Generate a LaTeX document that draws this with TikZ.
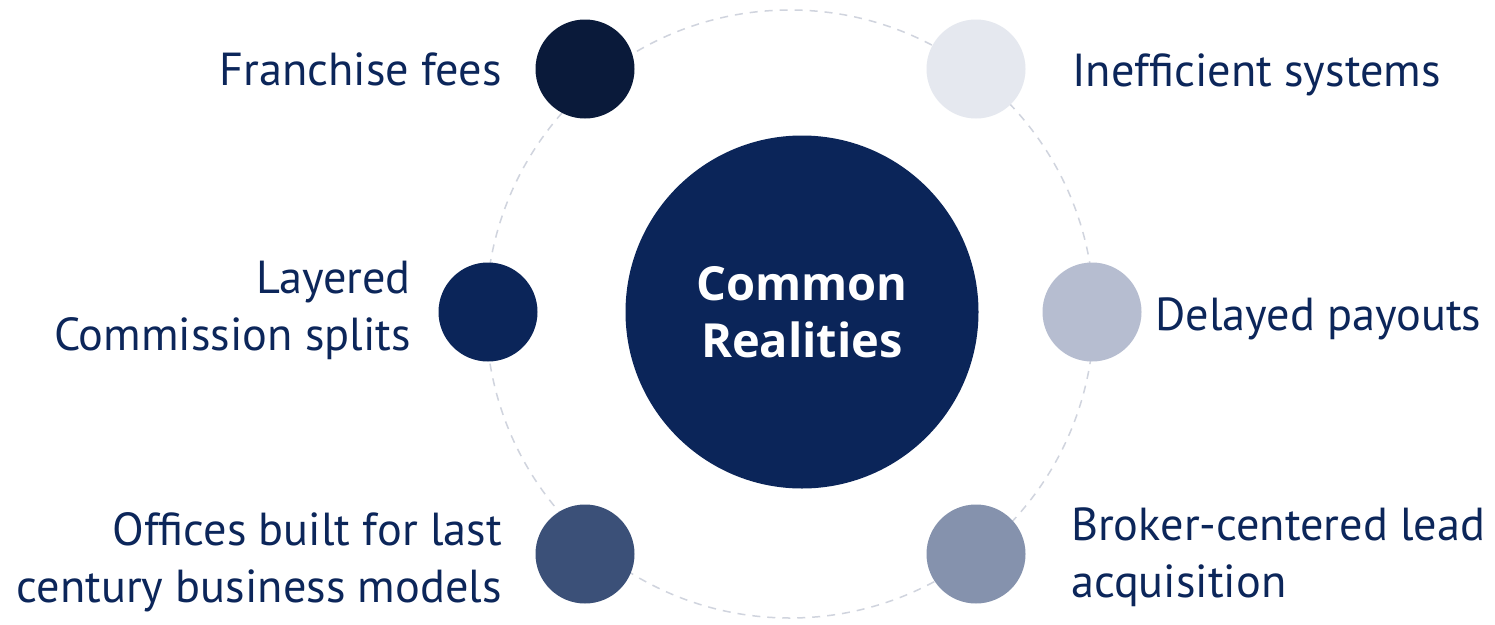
\documentclass[tikz,border=0pt]{standalone}
\usepackage{fontspec}
\setmainfont{PT Sans}
\newfontfamily\corefont{Open Sans}
\definecolor{navy}{RGB}{11,37,89}
\definecolor{ink}{RGB}{12,38,90}
\definecolor{cA}{RGB}{10,26,58}
\definecolor{cB}{RGB}{229,232,239}
\definecolor{cC}{RGB}{11,37,89}
\definecolor{cD}{RGB}{182,189,208}
\definecolor{cE}{RGB}{59,80,120}
\definecolor{cF}{RGB}{133,146,173}
\definecolor{ring}{RGB}{208,212,222}
\begin{document}
\begin{tikzpicture}[x=1pt,y=-1pt,
  dot/.style={circle,minimum size=99pt,inner sep=0pt,draw=none},
  lbl/.style={inner sep=0pt,text=ink,font=\fontsize{46.3}{57}\selectfont},
  ringline/.style={draw=ring,line width=1.5pt,dash pattern=on 8pt off 7pt}]
\useasboundingbox[fill=white] (0,0) rectangle (1495,624);
\coordinate (ringc) at (790,314);
\draw[ringline] (ringc) circle[radius=304pt];
\node[circle,fill=navy,minimum size=353pt,inner sep=0pt,text=white,align=center,
  font=\corefont\bfseries\fontsize{47}{57}\selectfont] (core) at (802,312) {Common\\Realities};
\node[dot,fill=cA] (fr) at (585,69) {};
\node[dot,fill=cB] (ie) at (976,69) {};
\node[dot,fill=cC] (la) at (488,312) {};
\node[dot,fill=cD] (de) at (1092,312) {};
\node[dot,fill=cE] (of) at (585,554) {};
\node[dot,fill=cF] (br) at (976,554) {};
\node[lbl,anchor=base east] (frt) at (502,85) {Franchise fees};
\node[lbl,anchor=base west] (iet) at (1072,86) {Inefficient systems};
\node[lbl,anchor=base east,align=right] (lat) at (411,350) {Layered\\Commission splits};
\node[lbl,anchor=base west] (det) at (1155,330) {Delayed payouts};
\node[lbl,anchor=base east,align=right] (oft) at (502,602) {Offices built for last\\century business models};
\node[lbl,anchor=base west,align=left] (brt) at (1071,597) {Broker-centered lead\\acquisition};
\end{tikzpicture}
\end{document}
